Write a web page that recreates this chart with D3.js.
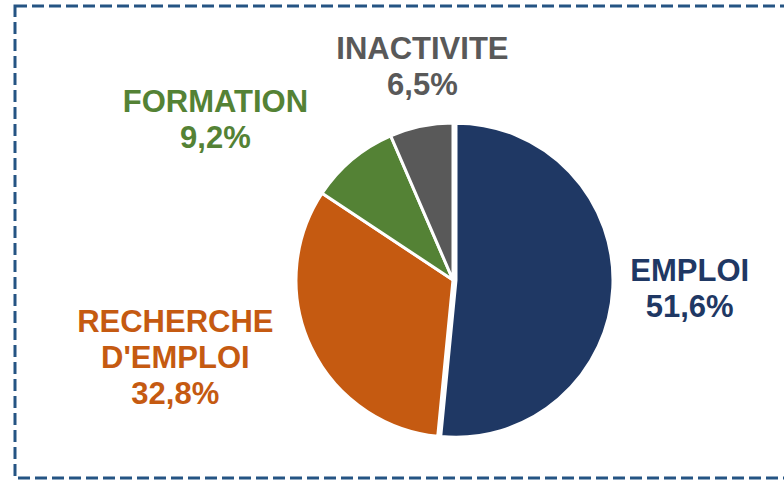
<!DOCTYPE html>
<html>
<head>
<meta charset="utf-8">
<script src="https://cdn.jsdelivr.net/npm/d3@7"></script>
<style>
  body { margin: 0; background: #fff; }
  svg text { font-family: "Liberation Sans", Arial, sans-serif; font-weight: bold; }
</style>
</head>
<body>
<div id="chart"></div>
<script>
// Data
var categories = ["EMPLOI", "RECHERCHE D'EMPLOI", "FORMATION", "INACTIVITE"];
var labelLines = [["EMPLOI"], ["RECHERCHE", "D'EMPLOI"], ["FORMATION"], ["INACTIVITE"]];
var values = [51.6, 32.8, 9.2, 6.5];
var colors = ["#1f3864", "#c55a11", "#548235", "#595959"];

// Layout
var W = 784, H = 480;
var cx = 453, cy = 280, R = 157;
var labelR = 230;
// small manual nudges, like the hand placed labels in the original
var nudge = [[7, -3], [-70, -22], [-90, 15], [16, 11]];
var fontSize = 31, lineH = 36;

var svg = d3.select("#chart").append("svg")
    .attr("width", W)
    .attr("height", H);

// dashed frame (runs off the right side)
svg.append("rect")
    .attr("x", 15)
    .attr("y", 6)
    .attr("width", 800)
    .attr("height", 472)
    .attr("fill", "none")
    .attr("stroke", "#255483")
    .attr("stroke-width", 3)
    .attr("stroke-dasharray", "12,5");

var pie = d3.pie().sort(null).value(function(d) { return d; });
var arcs = pie(values);
var arc = d3.arc().innerRadius(0).outerRadius(R);
var labelArc = d3.arc().innerRadius(labelR).outerRadius(labelR);

var g = svg.append("g").attr("transform", "translate(" + cx + "," + cy + ")");

g.selectAll(".slice")
  .data(arcs)
  .enter()
  .append("path")
    .attr("class", "slice")
    .attr("d", arc)
    .attr("fill", function(d, i) { return colors[i]; })
    .attr("stroke", "#fff")
    .attr("stroke-width", 3)
    .attr("transform", function(d, i) {
      // first slice is pulled out a little
      if (i == 0) {
        var a = (d.startAngle + d.endAngle) / 2;
        return "translate(" + (3 * Math.sin(a)) + "," + (-3 * Math.cos(a)) + ")";
      }
      return null;
    });

// Labels
var labels = g.selectAll(".lbl")
  .data(arcs)
  .enter()
  .append("text")
    .attr("class", "lbl")
    .attr("text-anchor", "middle")
    .attr("font-size", fontSize)
    .attr("fill", function(d, i) { return colors[i]; })
    .attr("transform", function(d, i) {
      var c = labelArc.centroid(d);
      return "translate(" + (c[0] + nudge[i][0]) + "," + (c[1] + nudge[i][1]) + ")";
    });

labels.each(function(d, i) {
  var lines = labelLines[i].concat([String(values[i]).replace(".", ",") + "%"]);
  var y0 = -(lines.length - 1) * lineH / 2 + fontSize * 0.36;
  var t = d3.select(this);
  lines.forEach(function(s, k) {
    t.append("tspan")
      .attr("x", 0)
      .attr("y", y0 + k * lineH)
      .text(s);
  });
});
</script>
</body>
</html>
